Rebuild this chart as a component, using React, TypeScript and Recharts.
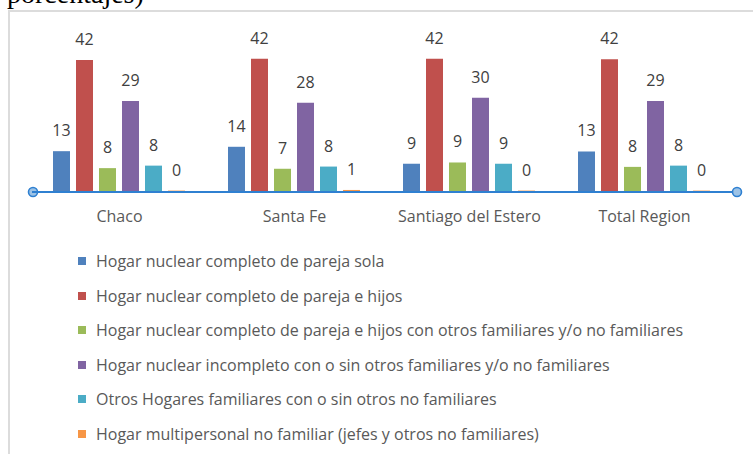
import React from 'react';
import * as R from 'recharts';

const { BarChart, Bar, XAxis, YAxis, LabelList, Legend, Customized } = R as any;

// ---- data ----
const categories = ['Chaco', 'Santa Fe', 'Santiago del Estero', 'Total Region'];

const seriesNames = [
  'Hogar nuclear completo de pareja sola',
  'Hogar nuclear completo de pareja e hijos',
  'Hogar nuclear completo de pareja e hijos con otros familiares y/o no familiares',
  'Hogar nuclear incompleto con o sin otros familiares y/o no familiares',
  'Otros Hogares familiares con o sin otros no familiares',
  'Hogar multipersonal no familiar (jefes y otros no familiares)',
];

const seriesColors = ['#4F81BD', '#C0504D', '#9BBB59', '#8064A2', '#4BACC6', '#F79646'];

const parejaSola = [13.0, 14.4, 9.0, 12.9];
const parejaHijos = [42.0, 42.4, 42.45, 42.3];
const parejaHijosOtros = [7.6, 7.4, 9.4, 8.0];
const incompleto = [29.0, 28.4, 30.0, 29.0];
const otrosFamiliares = [8.4, 8.1, 9.0, 8.4];
const multipersonal = [0.45, 0.65, 0.45, 0.45];

const seriesValues = [parejaSola, parejaHijos, parejaHijosOtros, incompleto, otrosFamiliares, multipersonal];
const seriesKeys = ['s0', 's1', 's2', 's3', 's4', 's5'];

const data = categories.map((c, i) => {
  const row: any = { name: c };
  seriesKeys.forEach((k, j) => {
    row[k] = seriesValues[j][i];
  });
  return row;
});

// ---- layout ----
const W = 753;
const H = 454;
const M = { top: 35, right: 21, left: 32, bottom: 232 };
const XH = 30;
const FONT = "'Open Sans', 'Noto Sans', sans-serif";
const AXIS_BLUE = '#2F80D1';

const usePlotAreaHook = (R as any).usePlotArea as undefined | (() => any);

function AxisDecor() {
  const area = usePlotAreaHook ? usePlotAreaHook() : null;
  const x0 = area && typeof area.x === 'number' ? area.x : M.left;
  const w = area && typeof area.width === 'number' ? area.width : W - M.left - M.right;
  const yb = area && typeof area.y === 'number' ? area.y + area.height : H - M.bottom - XH;
  const xL = x0 + 1;
  const xR = x0 + w + 5;
  return (
    <g>
      <line x1={xL} x2={xR} y1={yb} y2={yb} stroke={AXIS_BLUE} strokeWidth={2} />
      <circle cx={xL} cy={yb} r={4.5} fill="#9DC3E6" stroke={AXIS_BLUE} strokeWidth={1.6} />
      <circle cx={xR} cy={yb} r={4.5} fill="#9DC3E6" stroke={AXIS_BLUE} strokeWidth={1.6} />
    </g>
  );
}

function LegendContent() {
  return (
    <div style={{ fontFamily: FONT }}>
      {seriesNames.map((n, i) => (
        <div key={i} style={{ height: 34.6, display: 'flex', alignItems: 'center', whiteSpace: 'nowrap' }}>
          <span style={{ display: 'inline-block', width: 8, height: 8, background: seriesColors[i], marginRight: 10 }} />
          <span style={{ fontSize: 16, color: '#595959' }}>{n}</span>
        </div>
      ))}
    </div>
  );
}

export default function App() {
  return (
    <div style={{ position: 'absolute', left: 0, top: 0, width: W, height: H, overflow: 'hidden', background: '#fff' }}>
      <svg width={W} height={20} style={{ position: 'absolute', left: 0, top: 0 }}>
        <text x={7} y={2.5} fontFamily="'Liberation Serif', 'DejaVu Serif', serif" fontSize={28} fill="#000">
          porcentajes)
        </text>
      </svg>
      <div
        style={{
          position: 'absolute',
          left: 8,
          top: 10,
          width: 760,
          height: 460,
          borderLeft: '2px solid #dcdcdc',
          borderTop: '2px solid #dcdcdc',
          boxSizing: 'border-box',
        }}
      />
      <div style={{ position: 'absolute', left: 0, top: 0 }}>
        <BarChart
          width={W}
          height={H}
          data={data}
          margin={M}
          barCategoryGap={21}
          barGap={6}
          style={{ fontFamily: FONT }}
        >
          <XAxis
            dataKey="name"
            height={XH}
            axisLine={{ stroke: AXIS_BLUE, strokeWidth: 2 }}
            tickLine={false}
            tickMargin={13}
            interval={0}
            tick={{ fontSize: 16, fill: '#595959', fontFamily: FONT }}
          />
          <YAxis hide domain={[0, 50]} />
          {seriesKeys.map((k, j) => (
            <Bar
              key={k}
              dataKey={k}
              name={seriesNames[j]}
              fill={seriesColors[j]}
              isAnimationActive={false}
            >
              <LabelList
                dataKey={k}
                position="top"
                offset={15}
                formatter={(v: any) => Math.round(Number(v))}
                style={{ fontSize: 16, fill: '#404040', fontFamily: FONT }}
              />
            </Bar>
          ))}
          <Customized component={AxisDecor} />
          <Legend
            layout="vertical"
            align="center"
            verticalAlign="middle"
            wrapperStyle={{ top: 243.7, left: 78, width: 'auto', right: 'auto', bottom: 'auto' }}
            content={LegendContent}
          />
        </BarChart>
      </div>
    </div>
  );
}
